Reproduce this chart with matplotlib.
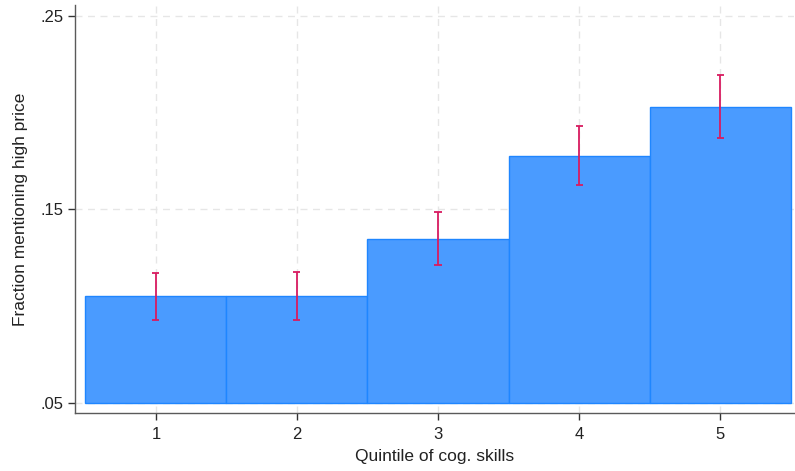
import matplotlib
matplotlib.use("Agg")
import matplotlib.pyplot as plt
import numpy as np

plt.rcParams['font.family'] = ['Liberation Sans', 'DejaVu Sans']

# fraction mentioning high price, by quintile of cognitive skills
quintiles = [1, 2, 3, 4, 5]
frac = [0.1053, 0.1053, 0.1348, 0.1778, 0.2028]
ci_low = [0.0929, 0.0929, 0.1215, 0.1627, 0.1870]
ci_high = [0.1173, 0.1177, 0.1486, 0.1933, 0.2194]
yticks = [0.05, 0.15, 0.25]
ytick_labels = ['.05', '.15', '.25']

base = 0.05

fig = plt.figure(figsize=(7.95, 4.71), dpi=100)
ax = fig.add_axes([0.0943, 0.1231, 0.9045, 0.8663])

x = np.array(quintiles)
heights = np.array(frac) - base
ax.bar(x, heights, bottom=base, width=1.0, color='#4a9bff',
       edgecolor='#1f86ff', linewidth=1.0, zorder=2)
ax.vlines(x, ci_low, ci_high, color='#d81b60', linewidth=1.3, zorder=3)
ax.hlines(ci_low, x - 0.025, x + 0.025, color='#d81b60', linewidth=1.3, zorder=3)
ax.hlines(ci_high, x - 0.025, x + 0.025, color='#d81b60', linewidth=1.3, zorder=3)

ax.set_xlim(0.4264, 5.524)
ax.set_ylim(0.0448, 0.2557)
ax.set_xticks(quintiles)
ax.set_yticks(yticks)
ax.set_yticklabels(ytick_labels)

ax.grid(True, color='#e6e6e6', linestyle=(0, (5, 4)), linewidth=1.0, zorder=0)
ax.set_axisbelow(True)

for side in ['top', 'right']:
    ax.spines[side].set_visible(False)
for side in ['left', 'bottom']:
    ax.spines[side].set_color('#5a5a5a')
    ax.spines[side].set_linewidth(1.0)
ax.tick_params(axis='both', colors='#333333', length=5, width=1.0,
               labelsize=12, labelcolor='#222222')
ax.tick_params(axis='x', pad=5)

ax.set_xlabel('Quintile of cog. skills', fontsize=12.5, color='#222222', labelpad=5)
ax.set_ylabel('Fraction mentioning high price', fontsize=12.5, color='#222222', labelpad=9)

fig.savefig('out.png', dpi=100)
